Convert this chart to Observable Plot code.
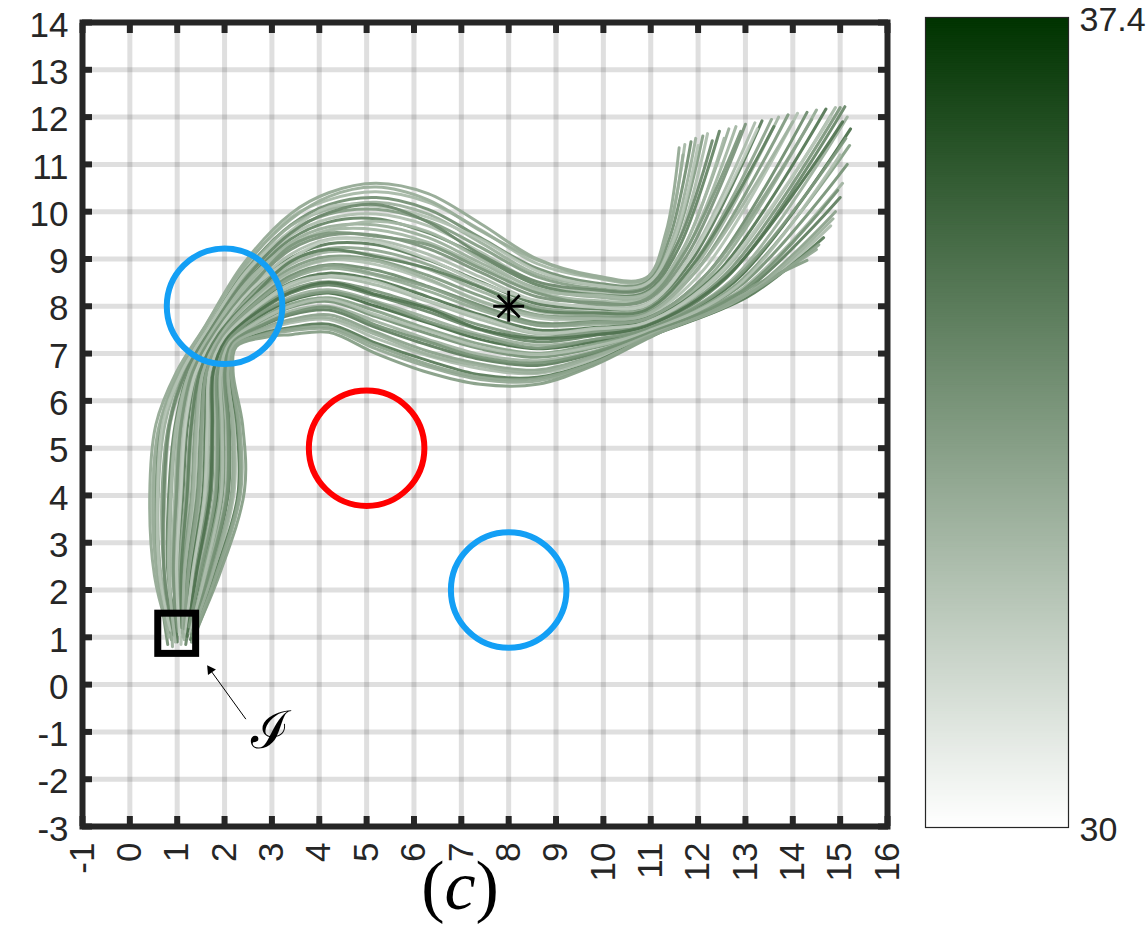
<!DOCTYPE html>
<html><head><meta charset="utf-8">
<script src="https://cdn.jsdelivr.net/npm/d3@7"></script>
<script src="https://cdn.jsdelivr.net/npm/@observablehq/plot@0.6"></script>
<style>
html,body{margin:0;padding:0;background:#fff;}
#wrap{position:relative;width:1148px;height:926px;overflow:hidden;}
#main{position:absolute;left:0;top:0;}
#cbar{position:absolute;left:900px;top:0;}
#cap{position:absolute;left:300px;top:846px;}
</style></head><body>
<div id="wrap"><div id="main"></div><div id="cbar"></div>
<svg id="cap" width="320" height="80"><text x="160" y="63" text-anchor="middle" font-family="Liberation Serif" font-size="70" fill="#000">(<tspan font-style="italic">c</tspan>)</text></svg>
</div>
<script>
// ---- data ----
const xTicks = [-1,0,1,2,3,4,5,6,7,8,9,10,11,12,13,14,15,16];
const yTicks = [-3,-2,-1,0,1,2,3,4,5,6,7,8,9,10,11,12,13,14];
const colorbarTicks = [30, 37.4];
const costDomain = [30, 37.4];

const trajectories = [
[[0.78,1.25],[0.52,2.3],[0.42,4.0],[0.55,5.5],[0.98,6.6],[1.6,7.6],[2.4,8.9],[3.4,9.96],[4.2,10.4],[5.2,10.6],[6.3,10.38],[7.4,9.75],[8.6,9.0],[9.8,8.65],[10.9,8.6],[11.32,9.56],[11.6,11.35]],
[[0.85,1.1],[0.58,2.35],[0.47,4.05],[0.63,5.45],[1.03,6.62],[1.63,7.58],[2.42,8.82],[3.4,9.88],[4.2,10.25],[5.2,10.42],[6.3,10.2],[7.4,9.62],[8.6,8.9],[9.8,8.6],[10.9,8.55],[11.35,9.5],[11.72,11.42]],
[[0.8,0.85],[0.6,2.4],[0.55,4.0],[0.68,5.6],[1.08,6.65],[1.66,7.55],[2.44,8.75],[3.4,9.72],[4.2,10.15],[5.2,10.3],[6.3,10.05],[7.4,9.45],[8.6,8.8],[9.8,8.5],[10.9,8.5],[11.4,9.45],[11.85,11.48]],
[[0.92,1.2],[0.66,2.3],[0.6,3.95],[0.74,5.5],[1.1,6.6],[1.68,7.55],[2.46,8.73],[3.4,9.7],[4.2,10.05],[5.2,10.2],[6.3,9.95],[7.4,9.35],[8.6,8.68],[9.8,8.45],[10.9,8.45],[11.45,9.4],[11.95,11.55]],
[[0.88,0.95],[0.72,2.35],[0.68,4.05],[0.82,5.5],[1.16,6.62],[1.7,7.52],[2.47,8.65],[3.4,9.58],[4.2,9.95],[5.2,10.05],[6.3,9.8],[7.4,9.25],[8.6,8.62],[9.8,8.38],[10.9,8.4],[11.5,9.35],[12.1,11.6]],
[[0.95,1.3],[0.74,2.3],[0.74,3.95],[0.86,5.55],[1.2,6.58],[1.72,7.5],[2.5,8.6],[3.4,9.5],[4.2,9.85],[5.2,9.95],[6.3,9.7],[7.4,9.15],[8.6,8.5],[9.8,8.3],[10.9,8.35],[11.55,9.3],[12.2,11.65]],
[[1.0,1.15],[0.8,2.4],[0.82,4.0],[0.95,5.45],[1.24,6.6],[1.75,7.5],[2.5,8.55],[3.4,9.42],[4.2,9.78],[5.2,9.85],[6.3,9.55],[7.4,9.05],[8.6,8.45],[9.8,8.25],[10.9,8.3],[11.6,9.25],[12.45,11.7]],
[[0.9,0.8],[0.85,2.3],[0.88,4.05],[1.0,5.5],[1.28,6.62],[1.76,7.48],[2.52,8.5],[3.4,9.35],[4.2,9.68],[5.2,9.72],[6.3,9.45],[7.4,8.92],[8.6,8.38],[9.8,8.2],[10.9,8.22],[11.65,9.15],[12.65,11.75]],
[[1.05,1.25],[0.9,2.35],[0.95,4.0],[1.05,5.5],[1.3,6.6],[1.78,7.45],[2.54,8.45],[3.4,9.25],[4.2,9.6],[5.2,9.62],[6.3,9.35],[7.4,8.85],[8.6,8.3],[9.8,8.12],[10.9,8.18],[11.7,9.1],[12.8,11.8]],
[[0.98,1.0],[0.93,2.3],[1.0,3.95],[1.1,5.5],[1.34,6.6],[1.8,7.45],[2.55,8.43],[3.4,9.2],[4.2,9.5],[5.2,9.5],[6.3,9.22],[7.4,8.72],[8.6,8.2],[9.8,8.08],[10.9,8.12],[11.75,9.05],[13.0,11.85]],
[[1.1,1.3],[0.97,2.35],[1.05,4.05],[1.15,5.55],[1.38,6.62],[1.82,7.42],[2.57,8.38],[3.4,9.1],[4.2,9.42],[5.2,9.4],[6.3,9.1],[7.4,8.62],[8.6,8.1],[9.8,8.0],[10.9,8.05],[11.8,9.0],[13.2,11.88]],
[[1.0,0.9],[1.0,2.3],[1.12,4.0],[1.22,5.5],[1.42,6.6],[1.84,7.42],[2.58,8.32],[3.4,9.02],[4.2,9.32],[5.2,9.3],[6.3,8.98],[7.4,8.52],[8.6,8.05],[9.8,7.95],[10.9,8.0],[11.85,8.95],[13.35,11.92]],
[[1.12,1.05],[1.05,2.35],[1.18,4.0],[1.28,5.45],[1.46,6.6],[1.86,7.4],[2.6,8.28],[3.4,8.95],[4.2,9.22],[5.2,9.18],[6.3,8.88],[7.4,8.42],[8.6,7.98],[9.8,7.88],[10.9,7.95],[11.9,8.9],[13.55,11.95]],
[[1.05,1.3],[1.1,2.3],[1.24,4.05],[1.32,5.5],[1.5,6.62],[1.88,7.4],[2.62,8.25],[3.4,8.88],[4.2,9.15],[5.2,9.08],[6.3,8.78],[7.4,8.32],[8.6,7.9],[9.8,7.82],[10.9,7.9],[11.95,8.85],[13.7,12.0]],
[[1.15,1.15],[1.13,2.35],[1.3,4.0],[1.38,5.5],[1.52,6.6],[1.9,7.38],[2.63,8.2],[3.4,8.8],[4.2,9.05],[5.2,8.98],[6.3,8.65],[7.4,8.22],[8.6,7.82],[9.8,7.78],[10.9,7.85],[12.0,8.8],[13.9,12.05]],
[[1.08,0.85],[1.17,2.3],[1.36,3.95],[1.44,5.5],[1.56,6.6],[1.92,7.38],[2.64,8.15],[3.4,8.72],[4.2,8.98],[5.2,8.88],[6.3,8.55],[7.4,8.12],[8.6,7.75],[9.8,7.72],[10.9,7.8],[12.1,8.75],[14.1,12.08]],
[[1.2,1.25],[1.21,2.35],[1.42,4.0],[1.5,5.5],[1.6,6.6],[1.94,7.35],[2.66,8.1],[3.4,8.65],[4.2,8.88],[5.2,8.76],[6.3,8.42],[7.4,8.02],[8.6,7.65],[9.8,7.68],[10.9,7.75],[12.2,8.7],[14.3,12.1]],
[[1.1,1.1],[1.26,2.3],[1.48,4.05],[1.55,5.5],[1.64,6.62],[1.96,7.35],[2.67,8.07],[3.4,8.58],[4.2,8.8],[5.2,8.65],[6.3,8.32],[7.4,7.92],[8.6,7.6],[9.8,7.62],[10.9,7.72],[12.3,8.7],[14.5,12.15]],
[[1.22,1.3],[1.3,2.35],[1.54,4.0],[1.6,5.5],[1.66,6.6],[1.98,7.32],[2.68,8.02],[3.4,8.5],[4.2,8.7],[5.2,8.55],[6.3,8.2],[7.4,7.82],[8.6,7.5],[9.8,7.55],[10.9,7.68],[12.4,8.7],[14.7,12.17]],
[[1.15,0.95],[1.34,2.3],[1.6,3.95],[1.66,5.5],[1.7,6.6],[2.0,7.32],[2.7,7.98],[3.4,8.42],[4.2,8.62],[5.2,8.45],[6.3,8.1],[7.4,7.72],[8.6,7.42],[9.8,7.5],[10.9,7.65],[12.5,8.7],[14.9,12.2]],
[[1.25,1.2],[1.38,2.35],[1.66,4.0],[1.72,5.5],[1.74,6.6],[2.02,7.3],[2.72,7.93],[3.4,8.35],[4.2,8.52],[5.2,8.32],[6.3,7.98],[7.4,7.6],[8.6,7.35],[9.8,7.45],[10.9,7.6],[12.55,8.65],[15.0,12.2]],
[[1.18,0.85],[1.42,2.3],[1.72,4.05],[1.76,5.5],[1.78,6.62],[2.04,7.28],[2.73,7.88],[3.4,8.28],[4.2,8.45],[5.2,8.22],[6.3,7.88],[7.4,7.5],[8.6,7.25],[9.8,7.38],[10.9,7.55],[12.6,8.6],[15.1,12.22]],
[[1.28,1.3],[1.46,2.35],[1.78,4.0],[1.82,5.5],[1.82,6.6],[2.06,7.28],[2.75,7.83],[3.4,8.2],[4.2,8.35],[5.2,8.1],[6.3,7.75],[7.4,7.4],[8.6,7.18],[9.8,7.3],[10.9,7.52],[12.7,8.55],[15.15,12.0]],
[[1.22,1.15],[1.5,2.3],[1.84,3.95],[1.87,5.5],[1.86,6.6],[2.08,7.25],[2.76,7.8],[3.4,8.12],[4.2,8.28],[5.2,8.0],[6.3,7.65],[7.4,7.3],[8.6,7.1],[9.8,7.25],[10.9,7.5],[12.75,8.5],[15.22,11.75]],
[[1.3,0.9],[1.55,2.35],[1.9,4.0],[1.92,5.5],[1.9,6.6],[2.1,7.25],[2.78,7.75],[3.4,8.05],[4.2,8.18],[5.2,7.9],[6.3,7.52],[7.4,7.2],[8.6,7.0],[9.8,7.2],[10.9,7.48],[12.8,8.45],[15.2,11.4]],
[[1.25,1.25],[1.6,2.3],[1.96,4.05],[1.98,5.5],[1.94,6.62],[2.12,7.22],[2.8,7.7],[3.4,7.98],[4.2,8.1],[5.2,7.78],[6.3,7.42],[7.4,7.1],[8.6,6.92],[9.8,7.12],[10.9,7.45],[12.85,8.4],[15.15,11.0]],
[[1.32,1.15],[1.64,2.35],[2.02,4.0],[2.04,5.5],[1.98,6.6],[2.14,7.22],[2.82,7.65],[3.4,7.9],[4.2,8.0],[5.2,7.68],[6.3,7.3],[7.4,6.98],[8.6,6.85],[9.8,7.05],[10.9,7.42],[12.9,8.35],[15.05,10.6]],
[[1.28,0.95],[1.68,2.3],[2.08,4.05],[2.1,5.5],[2.02,6.62],[2.16,7.2],[2.83,7.6],[3.4,7.82],[4.2,7.92],[5.2,7.55],[6.3,7.18],[7.4,6.88],[8.6,6.75],[9.8,7.0],[10.9,7.4],[12.95,8.3],[15.0,10.3]],
[[1.35,1.2],[1.72,2.35],[2.14,4.0],[2.16,5.5],[2.06,6.6],[2.18,7.2],[2.85,7.55],[3.4,7.72],[4.2,7.82],[5.2,7.45],[6.3,7.05],[7.4,6.78],[8.6,6.65],[9.8,6.95],[10.9,7.38],[13.0,8.25],[14.9,10.0]],
[[1.3,1.05],[1.76,2.3],[2.2,4.05],[2.2,5.5],[2.1,6.62],[2.2,7.18],[2.86,7.5],[3.4,7.65],[4.2,7.72],[5.2,7.32],[6.3,6.95],[7.4,6.68],[8.6,6.58],[9.8,6.88],[10.9,7.35],[13.0,8.2],[14.8,9.7]],
[[1.36,1.25],[1.8,2.35],[2.28,4.0],[2.26,5.5],[2.12,6.6],[2.22,7.16],[2.88,7.45],[3.4,7.55],[4.2,7.62],[5.2,7.22],[6.3,6.85],[7.4,6.55],[8.6,6.5],[9.8,6.82],[10.9,7.33],[13.05,8.2],[14.65,9.45]],
[[1.32,0.9],[1.84,2.3],[2.34,4.05],[2.32,5.5],[2.15,6.62],[2.24,7.16],[2.89,7.4],[3.4,7.48],[4.2,7.52],[5.2,7.1],[6.3,6.72],[7.4,6.45],[8.6,6.42],[9.8,6.78],[10.9,7.32],[13.05,8.3],[14.5,9.2]],
[[1.38,1.1],[1.9,2.35],[2.42,4.1],[2.38,5.5],[2.18,6.62],[2.25,7.15],[2.9,7.35],[3.4,7.4],[4.2,7.45],[5.2,7.0],[6.3,6.6],[7.4,6.35],[8.6,6.35],[9.8,6.75],[10.9,7.3],[13.1,8.4],[14.3,8.97]],
[[0.82,1.0],[0.56,2.4],[0.5,4.1],[0.6,5.4],[1.0,6.55],[1.62,7.62],[2.42,8.85],[3.4,9.84],[4.2,10.32],[5.2,10.52],[6.3,10.25],[7.4,9.6],[8.6,8.98],[9.8,8.62],[10.9,8.58],[11.38,9.6],[11.68,11.2]],
[[0.86,1.15],[0.63,2.3],[0.58,3.9],[0.7,5.55],[1.09,6.6],[1.67,7.56],[2.45,8.72],[3.4,9.6],[4.2,10.1],[5.2,10.12],[6.3,9.88],[7.4,9.42],[8.6,8.75],[9.8,8.45],[10.9,8.47],[11.48,9.38],[12.0,11.4]],
[[0.93,1.05],[0.73,2.32],[0.72,4.0],[0.84,5.5],[1.18,6.6],[1.71,7.51],[2.48,8.62],[3.4,9.55],[4.2,9.98],[5.2,10.15],[6.3,9.78],[7.4,9.1],[8.6,8.52],[9.8,8.35],[10.9,8.38],[11.6,9.4],[12.3,11.5]],
[[0.96,0.9],[0.82,2.36],[0.86,4.02],[0.98,5.48],[1.26,6.61],[1.75,7.49],[2.51,8.55],[3.4,9.3],[4.2,9.62],[5.2,9.8],[6.3,9.58],[7.4,9.0],[8.6,8.35],[9.8,8.24],[10.9,8.26],[11.7,9.25],[12.55,11.55]],
[[1.02,1.12],[0.92,2.32],[0.98,3.98],[1.08,5.5],[1.32,6.6],[1.79,7.45],[2.55,8.4],[3.4,9.28],[4.2,9.55],[5.2,9.48],[6.3,9.3],[7.4,8.8],[8.6,8.28],[9.8,8.05],[10.9,8.15],[11.72,9.15],[12.9,11.7]],
[[1.05,1.05],[0.99,2.32],[1.08,4.02],[1.18,5.52],[1.4,6.61],[1.83,7.42],[2.57,8.36],[3.4,9.0],[4.2,9.4],[5.2,9.36],[6.3,9.0],[7.4,8.5],[8.6,8.12],[9.8,7.98],[10.9,8.02],[11.85,9.05],[13.25,11.75]],
[[1.1,1.2],[1.08,2.32],[1.21,4.02],[1.3,5.48],[1.48,6.61],[1.87,7.4],[2.61,8.22],[3.4,8.95],[4.2,9.2],[5.2,9.05],[6.3,8.8],[7.4,8.4],[8.6,7.92],[9.8,7.86],[10.9,7.92],[11.95,8.95],[13.6,11.8]],
[[1.12,1.0],[1.15,2.32],[1.33,3.98],[1.41,5.5],[1.54,6.6],[1.91,7.38],[2.64,8.2],[3.4,8.74],[4.2,9.0],[5.2,8.95],[6.3,8.58],[7.4,8.1],[8.6,7.8],[9.8,7.74],[10.9,7.82],[12.05,8.85],[14.0,11.9]],
[[1.15,1.18],[1.23,2.32],[1.45,4.02],[1.52,5.5],[1.62,6.61],[1.95,7.35],[2.66,8.06],[3.4,8.6],[4.2,8.86],[5.2,8.68],[6.3,8.4],[7.4,7.98],[8.6,7.6],[9.8,7.66],[10.9,7.73],[12.25,8.75],[14.4,11.95]],
[[1.18,1.12],[1.32,2.32],[1.57,3.98],[1.63,5.5],[1.68,6.6],[1.99,7.32],[2.69,8.0],[3.4,8.48],[4.2,8.64],[5.2,8.52],[6.3,8.12],[7.4,7.78],[8.6,7.44],[9.8,7.53],[10.9,7.66],[12.45,8.7],[14.8,12.0]],
[[1.21,1.02],[1.4,2.32],[1.69,4.02],[1.74,5.5],[1.76,6.61],[2.03,7.29],[2.72,7.9],[3.4,8.3],[4.2,8.5],[5.2,8.25],[6.3,7.95],[7.4,7.52],[8.6,7.32],[9.8,7.4],[10.9,7.58],[12.6,8.62],[15.05,11.9]],
[[1.25,1.22],[1.48,2.32],[1.81,3.98],[1.85,5.5],[1.84,6.6],[2.07,7.26],[2.75,7.84],[3.4,8.15],[4.2,8.3],[5.2,8.07],[6.3,7.68],[7.4,7.36],[8.6,7.12],[9.8,7.3],[10.9,7.51],[12.72,8.52],[15.12,11.55]],
[[1.27,1.08],[1.58,2.32],[1.93,4.02],[1.95,5.5],[1.92,6.61],[2.11,7.23],[2.79,7.72],[3.4,8.0],[4.2,8.15],[5.2,7.82],[6.3,7.48],[7.4,7.14],[8.6,6.98],[9.8,7.15],[10.9,7.46],[12.82,8.42],[15.0,11.2]],
[[1.3,1.05],[1.66,2.32],[2.05,4.02],[2.07,5.5],[2.0,6.61],[2.15,7.21],[2.82,7.62],[3.4,7.85],[4.2,7.98],[5.2,7.6],[6.3,7.25],[7.4,6.92],[8.6,6.8],[9.8,7.03],[10.9,7.41],[12.92,8.32],[14.95,10.45]],
[[1.33,1.12],[1.74,2.32],[2.17,4.02],[2.18,5.5],[2.08,6.61],[2.19,7.19],[2.85,7.52],[3.4,7.69],[4.2,7.76],[5.2,7.4],[6.3,6.98],[7.4,6.74],[8.6,6.6],[9.8,6.93],[10.9,7.36],[13.0,8.22],[14.85,9.85]],
[[1.34,1.0],[1.82,2.32],[2.31,4.02],[2.29,5.5],[2.14,6.61],[2.23,7.16],[2.88,7.42],[3.4,7.52],[4.2,7.56],[5.2,7.17],[6.3,6.77],[7.4,6.5],[8.6,6.47],[9.8,6.8],[10.9,7.32],[13.05,8.25],[14.55,9.3]]
];
const trajCost = [33.2,32.6,34.1,32.9,33.6,32.4,34.5,33.0,32.7,33.9,32.5,34.8,33.3,32.8,33.7,32.3,34.2,33.1,35.0,32.6,33.8,34.4,32.9,35.3,33.5,34.0,32.8,34.7,33.4,32.5,34.9,33.2,33.6,
  33.0,32.2,34.3,32.6,33.8,31.9,34.6,32.8,33.4,32.1,35.1,33.7,32.4,34.0,32.9,33.3];

const safeX = [2, 8];
const safeY = [8, 2];
const unsafeX = [5];
const unsafeY = [5];
const regionRadius = 1.22;
const startBox = {x1: 0.6, x2: 1.4, y1: 0.65, y2: 1.5};
const target = {x: 8, y: 8};
const arrowFrom = {x: 2.45, y: -0.73};
const arrowTo = {x: 1.70, y: 0.31};
const labelPos = {x: 2.97, y: -0.99, text: "ℐ"};

// ---- build ----
const lineData = trajectories.flatMap((pts, i) => pts.map(([x, y]) => ({id: i, x, y, cost: trajCost[i]})));
const safe = safeX.map((x, i) => ({x, y: safeY[i], r: regionRadius}));
const unsafe = unsafeX.map((x, i) => ({x, y: unsafeY[i], r: regionRadius}));

const W = 900, H = 926, mL = 82, mR = 13, mT = 22, mB = 100;
const pxPerUnit = (W - mL - mR) / (xTicks[xTicks.length-1] - xTicks[0]);
const ink = "#262626";
const colorScale = {type: "linear", domain: costDomain, range: ["#ffffff", "#003300"]};
const fmt = d => String(d);

const main = Plot.plot({
  width: W, height: H,
  marginLeft: mL, marginRight: mR, marginTop: mT, marginBottom: mB,
  style: {fontFamily: "Liberation Sans, Arial, sans-serif", color: ink, background: "transparent", overflow: "visible"},
  x: {domain: [xTicks[0], xTicks[xTicks.length-1]]},
  y: {domain: [yTicks[0], yTicks[yTicks.length-1]]},
  r: {type: "linear", domain: [0, 1], range: [0, pxPerUnit]},
  color: colorScale,
  marks: [
    Plot.gridX(xTicks, {stroke: ink, strokeOpacity: 0.15, strokeWidth: 5}),
    Plot.gridY(yTicks, {stroke: ink, strokeOpacity: 0.15, strokeWidth: 5}),
    Plot.line(lineData, {x: "x", y: "y", z: "id", stroke: "cost", strokeWidth: 3, strokeOpacity: 0.92, curve: "catmull-rom"}),
    Plot.dot(safe, {x: "x", y: "y", r: "r", stroke: "#139ff5", strokeWidth: 6, fill: "none"}),
    Plot.dot(unsafe, {x: "x", y: "y", r: "r", stroke: "#ff0000", strokeWidth: 6, fill: "none"}),
    Plot.rect([startBox], {x1: "x1", x2: "x2", y1: "y1", y2: "y2", stroke: "#000", strokeWidth: 7, fill: "none"}),
    Plot.dot([target], {x: "x", y: "y", symbol: "plus", r: 10, stroke: "#000", strokeWidth: 2.8}),
    Plot.dot([target], {x: "x", y: "y", symbol: "times", r: 10, stroke: "#000", strokeWidth: 2.8}),
    Plot.link([{a: arrowFrom, b: arrowTo}], {x1: d => d.a.x, y1: d => d.a.y, x2: d => d.b.x, y2: d => d.b.y, stroke: "#000", strokeWidth: 1}),
    Plot.dot([arrowTo], {x: "x", y: "y", symbol: "triangle", r: 3.6, fill: "#000", stroke: "none", rotate: -35}),
    Plot.text([labelPos], {x: "x", y: "y", text: "text", fontSize: 52, fontFamily: "DejaVu Serif", fill: "#000"}),
    Plot.frame({stroke: ink, strokeWidth: 6}),
    Plot.axisX(xTicks, {anchor: "bottom", tickSize: -10, strokeWidth: 6, stroke: ink, tickFormat: () => "", label: null}),
    Plot.axisX(xTicks, {anchor: "top", tickSize: -10, strokeWidth: 6, stroke: ink, tickFormat: () => "", label: null}),
    Plot.axisY(yTicks, {anchor: "left", tickSize: -10, strokeWidth: 6, stroke: ink, tickFormat: () => "", label: null}),
    Plot.axisY(yTicks, {anchor: "right", tickSize: -10, strokeWidth: 6, stroke: ink, tickFormat: () => "", label: null}),
    Plot.axisX(xTicks, {anchor: "bottom", tickSize: 0, tickPadding: 16, tickRotate: -90, fontSize: 35, tickFormat: fmt, label: null, fill: ink}),
    Plot.axisY(yTicks, {anchor: "left", tickSize: 0, tickPadding: 14, fontSize: 35, tickFormat: fmt, label: null, fill: ink, dy: 3})
  ]
});
document.getElementById("main").appendChild(main);

// ---- colorbar ----
const rampSteps = d3.range(costDomain[0], costDomain[1], 0.02);
const cbar = Plot.plot({
  width: 248, height: 926,
  marginLeft: 25, marginRight: 80, marginTop: 17, marginBottom: 99,
  style: {fontFamily: "Liberation Sans, Arial, sans-serif", color: ink, background: "transparent", overflow: "visible"},
  x: {domain: [0, 1], axis: null},
  y: {domain: costDomain},
  color: colorScale,
  marks: [
    Plot.rect(rampSteps, {x1: 0, x2: 1, y1: d => d, y2: d => Math.min(d + 0.035, costDomain[1]), fill: d => d + 0.01}),
    Plot.frame({stroke: ink, strokeWidth: 1.2}),
    Plot.axisY(colorbarTicks, {anchor: "right", tickSize: 0, tickPadding: 11, fontSize: 34, tickFormat: fmt, label: null, fill: ink, dy: 3})
  ]
});
document.getElementById("cbar").appendChild(cbar);
</script>
</body></html>
